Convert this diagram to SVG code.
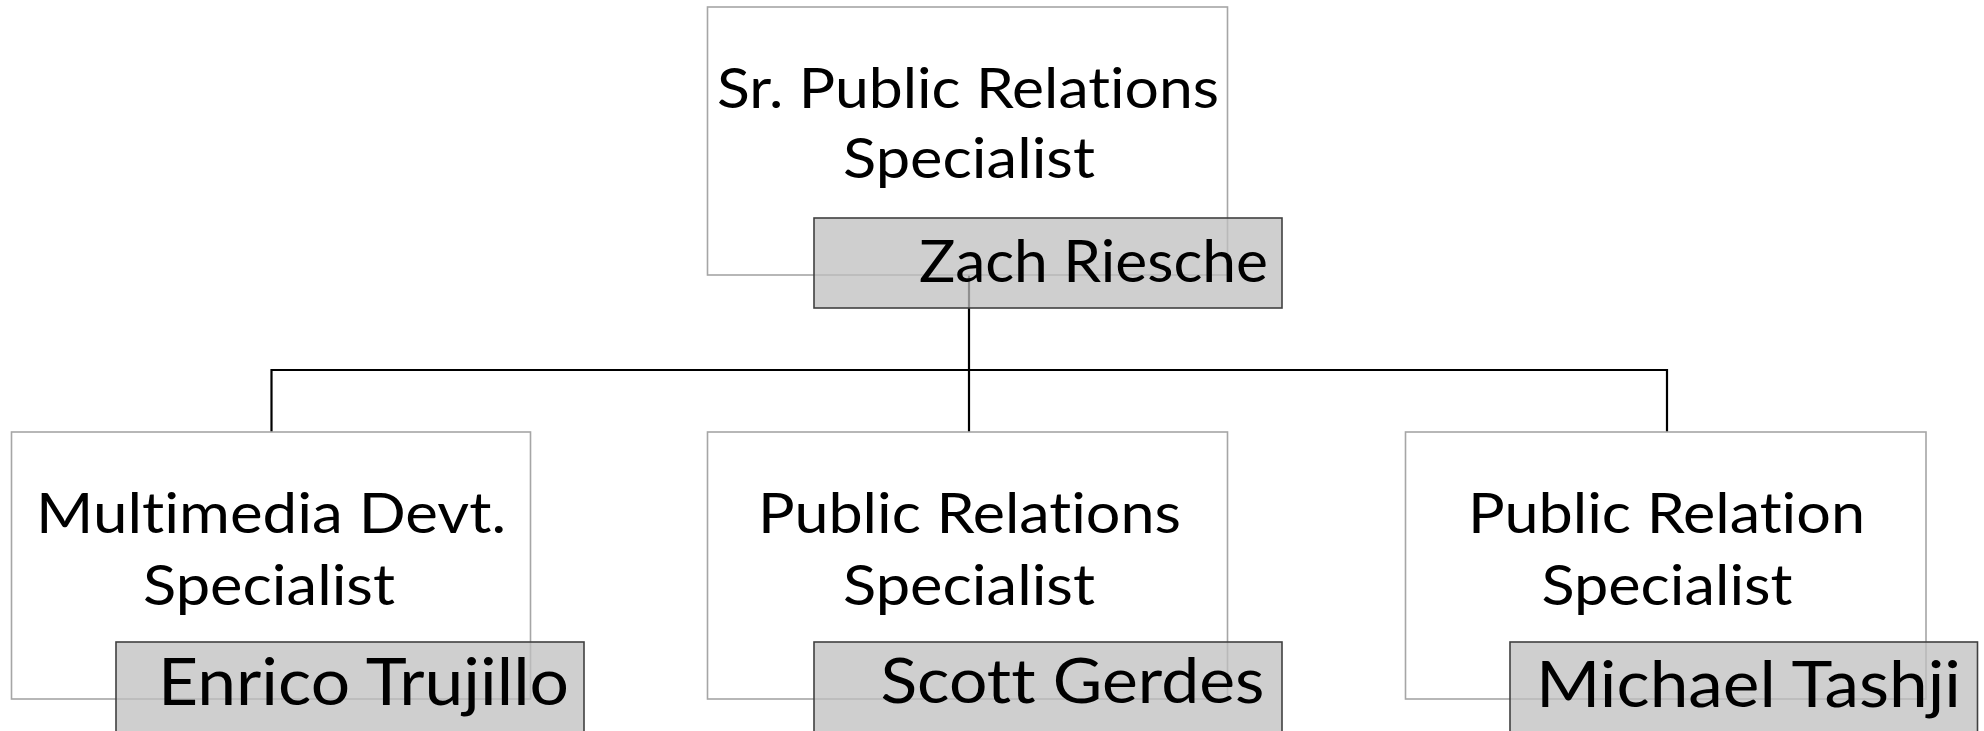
<svg xmlns="http://www.w3.org/2000/svg" width="1984" height="731" viewBox="0 0 1984 731">
  <style>
    .box { fill: #ffffff; stroke: #a6a6a6; stroke-width: 1.6; }
    .name { fill: #bfbfbf; fill-opacity: 0.75; stroke: #404040; stroke-width: 1.6; }
    .conn { fill: none; stroke: #000000; stroke-width: 2.2; }
    .t { font-family: Lato, "Liberation Sans", sans-serif; font-size: 56px; fill: #000000; text-anchor: middle; font-variant-ligatures: none; font-feature-settings: "liga" 0, "clig" 0; }
    .n { font-family: Lato, "Liberation Sans", sans-serif; fill: #000000; font-variant-ligatures: none; font-feature-settings: "liga" 0, "clig" 0; }
  </style>
  <rect width="1984" height="731" fill="#ffffff"/>
  <g id="connectors">
    <path class="conn" d="M969 275 V370"/>
    <path class="conn" d="M271.5 432 V370 H1667 V432"/>
    <path class="conn" d="M969 370 V432"/>
  </g>
  <g id="node-top">
    <rect class="box" x="707.5" y="7" width="520" height="268"/>
    <text class="t" x="968" y="108" textLength="502" lengthAdjust="spacingAndGlyphs">Sr. Public Relations</text>
    <text class="t" x="969" y="178" textLength="252" lengthAdjust="spacingAndGlyphs">Specialist</text>
    <rect class="name" x="814" y="218" width="468" height="90"/>
    <text class="n" x="919" y="281.7" font-size="59" textLength="349" lengthAdjust="spacingAndGlyphs">Zach Riesche</text>
  </g>
  <g id="node-left">
    <rect class="box" x="11.5" y="432" width="519" height="267"/>
    <text class="t" x="271" y="533" textLength="470" lengthAdjust="spacingAndGlyphs">Multimedia Devt.</text>
    <text class="t" x="269" y="605" textLength="252" lengthAdjust="spacingAndGlyphs">Specialist</text>
    <rect class="name" x="116" y="642" width="468" height="95"/>
    <text class="n" x="158" y="705" font-size="66" textLength="411" lengthAdjust="spacingAndGlyphs">Enrico Trujillo</text>
  </g>
  <g id="node-middle">
    <rect class="box" x="707.5" y="432" width="520" height="267"/>
    <text class="t" x="969.5" y="533" textLength="423" lengthAdjust="spacingAndGlyphs">Public Relations</text>
    <text class="t" x="969" y="605" textLength="252" lengthAdjust="spacingAndGlyphs">Specialist</text>
    <rect class="name" x="814" y="642" width="468" height="95"/>
    <text class="n" x="880.5" y="702.7" font-size="61" textLength="384" lengthAdjust="spacingAndGlyphs">Scott Gerdes</text>
  </g>
  <g id="node-right">
    <rect class="box" x="1405.5" y="432" width="520.5" height="267"/>
    <text class="t" x="1666.5" y="533" textLength="397" lengthAdjust="spacingAndGlyphs">Public Relation</text>
    <text class="t" x="1667" y="605" textLength="251" lengthAdjust="spacingAndGlyphs">Specialist</text>
    <rect class="name" x="1510" y="642" width="467.5" height="95"/>
    <text class="n" x="1536" y="706.7" font-size="64" textLength="425" lengthAdjust="spacingAndGlyphs">Michael Tashji</text>
  </g>
</svg>
